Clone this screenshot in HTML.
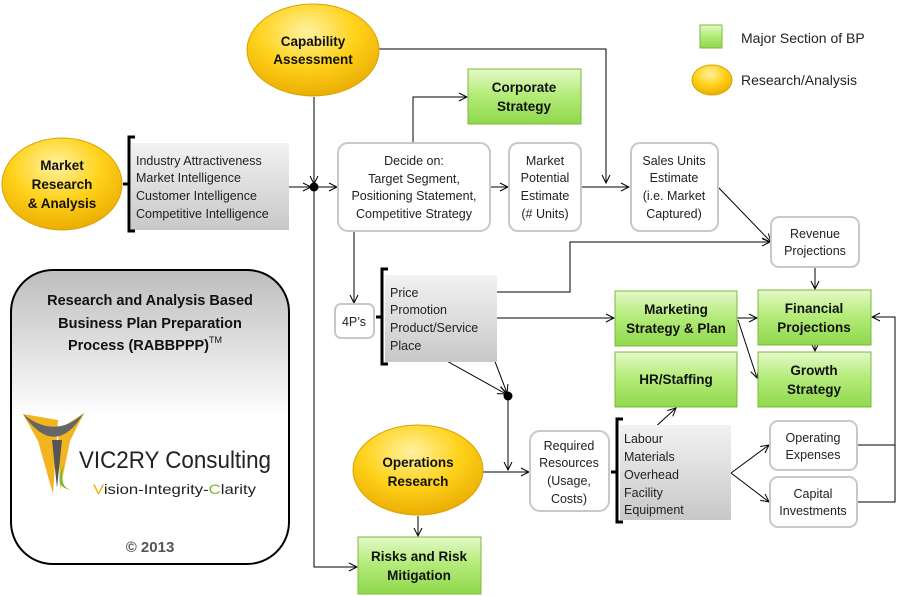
<!DOCTYPE html>
<html><head><meta charset="utf-8"><style>
html,body{margin:0;padding:0;background:#fff;}
svg{display:block;font-family:"Liberation Sans","DejaVu Sans",sans-serif;}
.b{font-weight:bold;font-size:13.5px;fill:#111;}
.t{font-size:12.5px;fill:#222;}
</style></head><body>
<svg width="899" height="596" viewBox="0 0 899 596" xmlns="http://www.w3.org/2000/svg">
<defs>
<radialGradient id="yel" cx="0.45" cy="0.3" r="0.75">
<stop offset="0" stop-color="#fff2a0"/><stop offset="0.5" stop-color="#ffd21a"/><stop offset="1" stop-color="#e8a800"/></radialGradient>
<linearGradient id="grn" x1="0" y1="0" x2="0" y2="1">
<stop offset="0" stop-color="#e4f9c8"/><stop offset="0.45" stop-color="#b6ec7c"/><stop offset="1" stop-color="#8fd84c"/></linearGradient>
<linearGradient id="gry" x1="0" y1="0" x2="0" y2="1">
<stop offset="0" stop-color="#f2f2f2"/><stop offset="1" stop-color="#c8c8c8"/></linearGradient>
<linearGradient id="pan" x1="0" y1="0" x2="0" y2="1">
<stop offset="0" stop-color="#bdbdbd"/><stop offset="0.5" stop-color="#fff"/><stop offset="1" stop-color="#fff"/></linearGradient>
<marker id="a" markerWidth="10" markerHeight="10" refX="9" refY="5" orient="auto" markerUnits="userSpaceOnUse">
<path d="M1,1 L9,5 L1,9" fill="none" stroke="#000" stroke-width="1"/></marker>
</defs>

<rect x="11" y="270" width="278" height="294" rx="42" fill="url(#pan)" stroke="#000" stroke-width="2"/>
<text x="150" y="305" text-anchor="middle" style="font-weight:bold;font-size:14.5px" fill="#111">Research and Analysis Based</text>
<text x="150" y="328" text-anchor="middle" style="font-weight:bold;font-size:14.5px" fill="#111">Business Plan Preparation</text>
<text x="145" y="350" text-anchor="middle" style="font-weight:bold;font-size:14.5px" fill="#111">Process (RABBPPP)<tspan dy="-7" style="font-size:9px;font-weight:normal">TM</tspan></text>
<path d="M23,414 L38,441 L53,494 L58,420 Z" fill="#f3b51f"/>
<path d="M84,413 L70,441 L60,490 L58,430 Z" fill="#f3b51f"/>
<path d="M23,414 Q55,460 84,413 Q55,440 23,414 Z" fill="#666"/>
<path d="M52,440 L57,488 L62,440 Z" fill="#555"/>
<path d="M64,464 Q52,488 72,490 Q58,488 64,464 Z" fill="#7ab82d"/>
<text x="79" y="468" style="font-size:24px" fill="#222" textLength="192" lengthAdjust="spacingAndGlyphs">VIC2RY Consulting</text>
<text x="93" y="494" style="font-size:14px" fill="#222" textLength="163" lengthAdjust="spacingAndGlyphs"><tspan fill="#f0b000">V</tspan>ision-Integrity-<tspan fill="#7ab82d">C</tspan>larity</text>
<text x="150" y="552" text-anchor="middle" style="font-weight:bold;font-size:15px" fill="#555">© 2013</text>

<g stroke="#000" stroke-width="1" fill="none">
<line x1="289" y1="187" x2="311" y2="187" marker-end="url(#a)"/>
<line x1="314" y1="97" x2="314" y2="184" marker-end="url(#a)"/>
<line x1="314" y1="187" x2="337" y2="187" marker-end="url(#a)"/>
<polyline points="314,187 314,567 357,567" marker-end="url(#a)"/>
<polyline points="413,143 413,97 467,97" marker-end="url(#a)"/>
<polyline points="379,49 606,49 606,183" marker-end="url(#a)"/>
<line x1="490" y1="187" x2="508" y2="187" marker-end="url(#a)"/>
<line x1="581" y1="187" x2="629" y2="187" marker-end="url(#a)"/>
<line x1="718" y1="187" x2="771" y2="242" marker-end="url(#a)"/>
<line x1="815" y1="267" x2="815" y2="289" marker-end="url(#a)"/>
<polyline points="497,292 570,292 570,242 770,242" marker-end="url(#a)"/>
<line x1="497" y1="318" x2="614" y2="318" marker-end="url(#a)"/>
<line x1="354" y1="231" x2="354" y2="303" marker-end="url(#a)"/>
<line x1="427" y1="350" x2="506" y2="394" marker-end="url(#a)"/>
<line x1="486" y1="338" x2="507" y2="393" marker-end="url(#a)"/>
<line x1="508" y1="396" x2="508" y2="470" marker-end="url(#a)"/>
<line x1="482" y1="472" x2="529" y2="472" marker-end="url(#a)"/>
<line x1="418" y1="516" x2="418" y2="536" marker-end="url(#a)"/>
<line x1="652" y1="430" x2="676" y2="408" marker-end="url(#a)"/>
<line x1="731" y1="473" x2="769" y2="445" marker-end="url(#a)"/>
<line x1="731" y1="473" x2="769" y2="502" marker-end="url(#a)"/>
<polyline points="857,445 895,445 895,317 872,317" marker-end="url(#a)"/>
<polyline points="857,502 895,502 895,445"/>
<line x1="737" y1="318" x2="757" y2="318" marker-end="url(#a)"/>
<line x1="738" y1="320" x2="757" y2="378" marker-end="url(#a)"/>
<line x1="815" y1="345" x2="815" y2="351" marker-end="url(#a)"/>
</g>
<circle cx="314" cy="187" r="4.5" fill="#000"/>
<circle cx="508" cy="396" r="4.5" fill="#000"/>

<ellipse cx="313" cy="50" rx="66" ry="46" fill="url(#yel)" stroke="#d8a400"/>
<text x="313" y="46" text-anchor="middle" class="b">Capability</text>
<text x="313" y="64" text-anchor="middle" class="b">Assessment</text>
<ellipse cx="62" cy="184" rx="60" ry="46" fill="url(#yel)" stroke="#d8a400"/>
<text x="62" y="170" text-anchor="middle" class="b">Market</text>
<text x="62" y="189" text-anchor="middle" class="b">Research</text>
<text x="62" y="208" text-anchor="middle" class="b">&amp; Analysis</text>
<ellipse cx="418" cy="470" rx="65" ry="45" fill="url(#yel)" stroke="#d8a400"/>
<text x="418" y="467" text-anchor="middle" class="b">Operations</text>
<text x="418" y="486" text-anchor="middle" class="b">Research</text>

<rect x="131" y="143" width="158" height="87" fill="url(#gry)"/>
<path d="M135,137 L129,137 L129,231 L135,231 M123,184 L129,184" stroke="#000" stroke-width="3" fill="none"/>
<text class="t"><tspan x="136" y="165">Industry Attractiveness</tspan><tspan x="136" y="182">Market Intelligence</tspan><tspan x="136" y="200">Customer Intelligence</tspan><tspan x="136" y="218">Competitive Intelligence</tspan></text>
<rect x="385" y="275" width="112" height="87" fill="url(#gry)"/>
<path d="M388,269 L382,269 L382,364 L388,364 M376,317 L382,317" stroke="#000" stroke-width="3" fill="none"/>
<text class="t"><tspan x="390" y="297">Price</tspan><tspan x="390" y="314">Promotion</tspan><tspan x="390" y="332">Product/Service</tspan><tspan x="390" y="350">Place</tspan></text>
<rect x="620" y="425" width="111" height="95" fill="url(#gry)"/>
<path d="M623,419 L617,419 L617,522 L623,522 M611,472 L617,472" stroke="#000" stroke-width="3" fill="none"/>
<text class="t"><tspan x="624" y="443">Labour</tspan><tspan x="624" y="461">Materials</tspan><tspan x="624" y="479">Overhead</tspan><tspan x="624" y="497">Facility</tspan><tspan x="624" y="514">Equipment</tspan></text>

<g fill="#fff" stroke="#c8c8c8" stroke-width="2">
<rect x="338" y="143" width="152" height="88" rx="10"/>
<rect x="509" y="143" width="72" height="88" rx="9"/>
<rect x="631" y="143" width="87" height="88" rx="9"/>
<rect x="771" y="217" width="88" height="50" rx="8"/>
<rect x="335" y="304" width="39" height="34" rx="6"/>
<rect x="530" y="431" width="79" height="80" rx="10"/>
<rect x="770" y="421" width="87" height="49" rx="8"/>
<rect x="770" y="477" width="87" height="50" rx="8"/>
</g>
<g class="t" text-anchor="middle">
<text x="414" y="165">Decide on:</text><text x="414" y="183">Target Segment,</text><text x="414" y="200">Positioning Statement,</text><text x="414" y="218">Competitive Strategy</text>
<text x="545" y="165">Market</text><text x="545" y="182">Potential</text><text x="545" y="200">Estimate</text><text x="545" y="218">(# Units)</text>
<text x="674" y="165">Sales Units</text><text x="674" y="182">Estimate</text><text x="674" y="200">(i.e. Market</text><text x="674" y="218">Captured)</text>
<text x="815" y="238">Revenue</text><text x="815" y="255">Projections</text>
<text x="354" y="326">4P’s</text>
<text x="569" y="450">Required</text><text x="569" y="467">Resources</text><text x="569" y="485">(Usage,</text><text x="569" y="503">Costs)</text>
<text x="813" y="442">Operating</text><text x="813" y="459">Expenses</text>
<text x="813" y="498">Capital</text><text x="813" y="515">Investments</text>
</g>

<g fill="url(#grn)" stroke="#7cb83c" stroke-width="1">
<rect x="468" y="69" width="113" height="55"/>
<rect x="615" y="291" width="122" height="55"/>
<rect x="615" y="352" width="122" height="55"/>
<rect x="758" y="290" width="113" height="55"/>
<rect x="758" y="352" width="113" height="55"/>
<rect x="358" y="537" width="123" height="57"/>
<rect x="700" y="25" width="22" height="23"/>
</g>
<g class="b" text-anchor="middle">
<text x="524" y="92">Corporate</text><text x="524" y="111">Strategy</text>
<text x="676" y="314">Marketing</text><text x="676" y="333">Strategy &amp; Plan</text>
<text x="676" y="384">HR/Staffing</text>
<text x="814" y="313">Financial</text><text x="814" y="332">Projections</text>
<text x="814" y="375">Growth</text><text x="814" y="394">Strategy</text>
<text x="419" y="561">Risks and Risk</text><text x="419" y="580">Mitigation</text>
</g>

<ellipse cx="712" cy="80" rx="20" ry="15" fill="url(#yel)" stroke="#d8a400"/>
<text x="741" y="43" style="font-size:14px" fill="#222">Major Section of BP</text>
<text x="741" y="85" style="font-size:14px" fill="#222">Research/Analysis</text>
</svg>
</body></html>
